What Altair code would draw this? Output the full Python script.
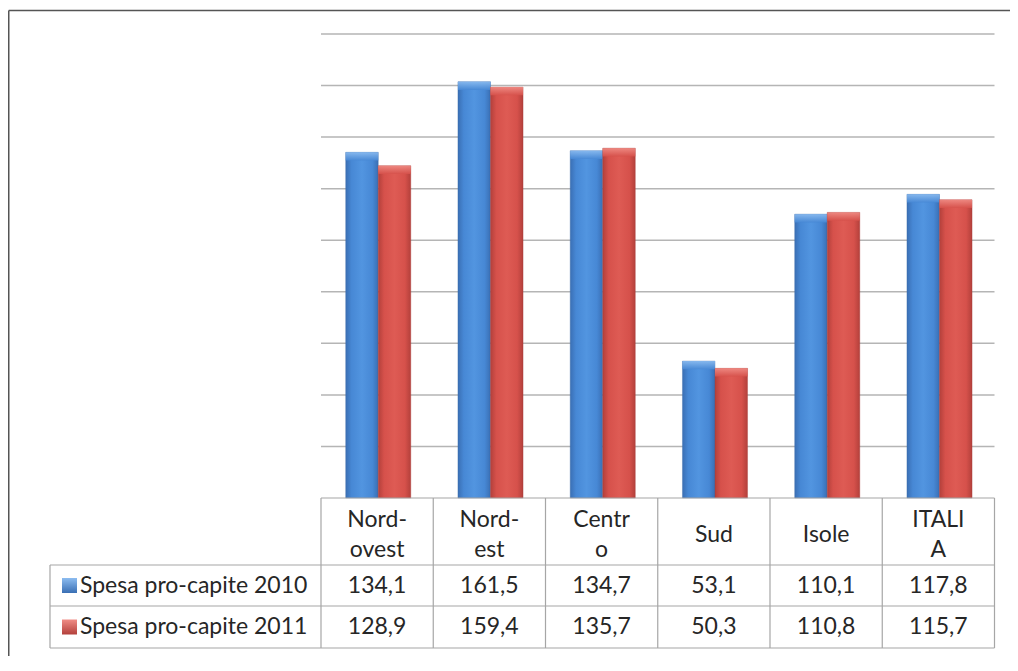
import altair as alt
import pandas as pd

# ---------------- data ----------------
categories = ["Nord-ovest", "Nord-est", "Centro", "Sud", "Isole", "ITALIA"]
header_labels = ["Nord-\novest", "Nord-\nest", "Centr\no", "Sud", "Isole", "ITALI\nA"]
series = ["Spesa pro-capite 2010", "Spesa pro-capite 2011"]
values_2010 = [134.1, 161.5, 134.7, 53.1, 110.1, 117.8]
values_2011 = [128.9, 159.4, 135.7, 50.3, 110.8, 115.7]
grid_values = [20, 40, 60, 80, 100, 120, 140, 160, 180]

# ---------------- layout (scale units) ----------------
COL_PX = 112.25            # px per table column
ORIGIN_X_PAGE = 321        # page x of column 0
BASE_Y_PAGE = 498          # page y of value 0
K = 464 / 180              # px per value unit
W, H = 1002, 648

def ux(px):
    return (px - ORIGIN_X_PAGE) / COL_PX

def uy(py):
    return (BASE_Y_PAGE - py) / K

X0, X1 = ux(8), ux(8 + W)
Y0, Y1 = uy(8 + H), uy(8)
xs = alt.Scale(domain=[X0, X1], nice=False, zero=False)
ys = alt.Scale(domain=[Y0, Y1], nice=False, zero=False)

def X(f):
    return alt.X(f, type="quantitative", scale=xs, axis=None)

def Y(f):
    return alt.Y(f, type="quantitative", scale=ys, axis=None)

n = len(categories)
BAR_START, BAR_W = 0.22, 0.29
HDR_B, R1_B, R2_B = uy(565), uy(606), uy(648)
LEG_X = ux(50)
LINE_H = 30

FONT = "Lato"
FS = 23
TXT = "#262626"
LINE = "#a6a6a6"

# ---------------- tables ----------------
rows = []
for i, c in enumerate(categories):
    for s, vals in enumerate([values_2010, values_2011]):
        x = i + BAR_START + s * BAR_W
        rows.append({"cat": c, "series": series[s], "s": s, "value": vals[i],
                     "x": x, "x2": x + BAR_W, "y0": 0, "cap": vals[i] - 3.2})
bars = pd.DataFrame(rows)

grid = pd.DataFrame({"y": grid_values, "x": 0, "x2": n})

hlines = pd.DataFrame({
    "y": [0, HDR_B, R1_B, R2_B],
    "x": [0, LEG_X, LEG_X, LEG_X],
    "x2": [n, n, n, n],
})
vlines = pd.DataFrame({
    "x": list(range(n + 1)) + [LEG_X],
    "y": [0] * (n + 1) + [HDR_B],
    "y2": [R2_B] * (n + 2),
})
frame_h = pd.DataFrame({"x": [ux(8.75)], "x2": [X1], "y": [uy(10.5)]})
frame_v = pd.DataFrame({"x": [ux(8.75)], "y": [Y0], "y2": [uy(10.5)]})

header = pd.DataFrame({
    "x": [i + 0.5 for i in range(n)],
    "label": header_labels,
    "y": [uy(535 - LINE_H / 2 * (lab.count("\n"))) for lab in header_labels],
})
row_y = [uy(585.5), uy(627)]
cells = []
for s, vals in enumerate([values_2010, values_2011]):
    for i, v in enumerate(vals):
        cells.append({"x": i + 0.5, "y": row_y[s],
                      "label": f"{v:.1f}".replace(".", ",")})
cells = pd.DataFrame(cells)
legend = pd.DataFrame({"label": series, "y": row_y, "s": [0, 1],
                       "lx": ux(80), "sx": ux(62), "sx2": ux(77)})
legend["sy"] = legend["y"] - 7.5 / K
legend["sy2"] = legend["y"] + 7.5 / K


def hgrad(edge, mid, light):
    return alt.LinearGradient(
        gradient="linear", x1=0, x2=1, y1=0, y2=0,
        stops=[alt.GradientStop(color=edge, offset=0),
               alt.GradientStop(color=mid, offset=0.18),
               alt.GradientStop(color=light, offset=0.5),
               alt.GradientStop(color=mid, offset=0.82),
               alt.GradientStop(color=edge, offset=1)])


def vgrad(top, bottom):
    return alt.LinearGradient(
        gradient="linear", x1=0, x2=0, y1=0, y2=1,
        stops=[alt.GradientStop(color=top, offset=0),
               alt.GradientStop(color=bottom, offset=1)])


palette = [
    {"edge": "#3a6fb4", "mid": "#4788d5", "light": "#5295e0", "cap": "#8cbcf0", "stroke": "#3a6aa8"},
    {"edge": "#b3403b", "mid": "#d6514b", "light": "#de5b54", "cap": "#f08d86", "stroke": "#a83c37"},
]

layers = []

# frame
layers.append(alt.Chart(frame_h).mark_rule(color="#555555", strokeWidth=1.5)
              .encode(x=X("x"), x2="x2", y=Y("y")))
layers.append(alt.Chart(frame_v).mark_rule(color="#555555", strokeWidth=1.5)
              .encode(x=X("x"), y=Y("y"), y2="y2"))

# gridlines
layers.append(alt.Chart(grid).mark_rule(color="#b5b5b5", strokeWidth=1.5)
              .encode(x=X("x"), x2="x2", y=Y("y")))

# bars
for s in range(2):
    p = palette[s]
    sub = bars[bars["s"] == s]
    layers.append(alt.Chart(sub).mark_bar(fill=hgrad(p["edge"], p["mid"], p["light"]),
                                          stroke=p["stroke"], strokeWidth=0.6,
                                          strokeOpacity=0.6)
                  .encode(x=X("x"), x2="x2", y=Y("y0"), y2="value"))
    layers.append(alt.Chart(sub).mark_bar(fill=vgrad(p["cap"], p["mid"]), opacity=0.9)
                  .encode(x=X("x"), x2="x2", y=Y("cap"), y2="value"))

# table lines
layers.append(alt.Chart(hlines).mark_rule(color=LINE, strokeWidth=1.2)
              .encode(x=X("x"), x2="x2", y=Y("y")))
layers.append(alt.Chart(vlines).mark_rule(color=LINE, strokeWidth=1.2)
              .encode(x=X("x"), y=Y("y"), y2="y2"))

# header text
layers.append(alt.Chart(header).mark_text(font=FONT, fontSize=FS, color=TXT,
                                          lineBreak="\n", lineHeight=LINE_H,
                                          align="center", baseline="middle")
              .encode(x=X("x"), y=Y("y"), text="label"))
# values
layers.append(alt.Chart(cells).mark_text(font=FONT, fontSize=FS, color=TXT,
                                         align="center", baseline="middle")
              .encode(x=X("x"), y=Y("y"), text="label"))
# legend swatches and labels
for s in range(2):
    p = palette[s]
    sub = legend[legend["s"] == s]
    layers.append(alt.Chart(sub).mark_rect(fill=vgrad(p["cap"], p["edge"]))
                  .encode(x=X("sx"), x2="sx2", y=Y("sy"), y2="sy2"))
layers.append(alt.Chart(legend).mark_text(font=FONT, fontSize=FS, color=TXT,
                                          align="left", baseline="middle")
              .encode(x=X("lx"), y=Y("y"), text="label"))

chart = alt.layer(*layers).properties(
    width=W, height=H,
    autosize=alt.AutoSizeParams(type="none"),
    padding=0,
).configure_view(stroke=None)

chart.save("out.html", embed_options={"renderer": "svg", "actions": False})
